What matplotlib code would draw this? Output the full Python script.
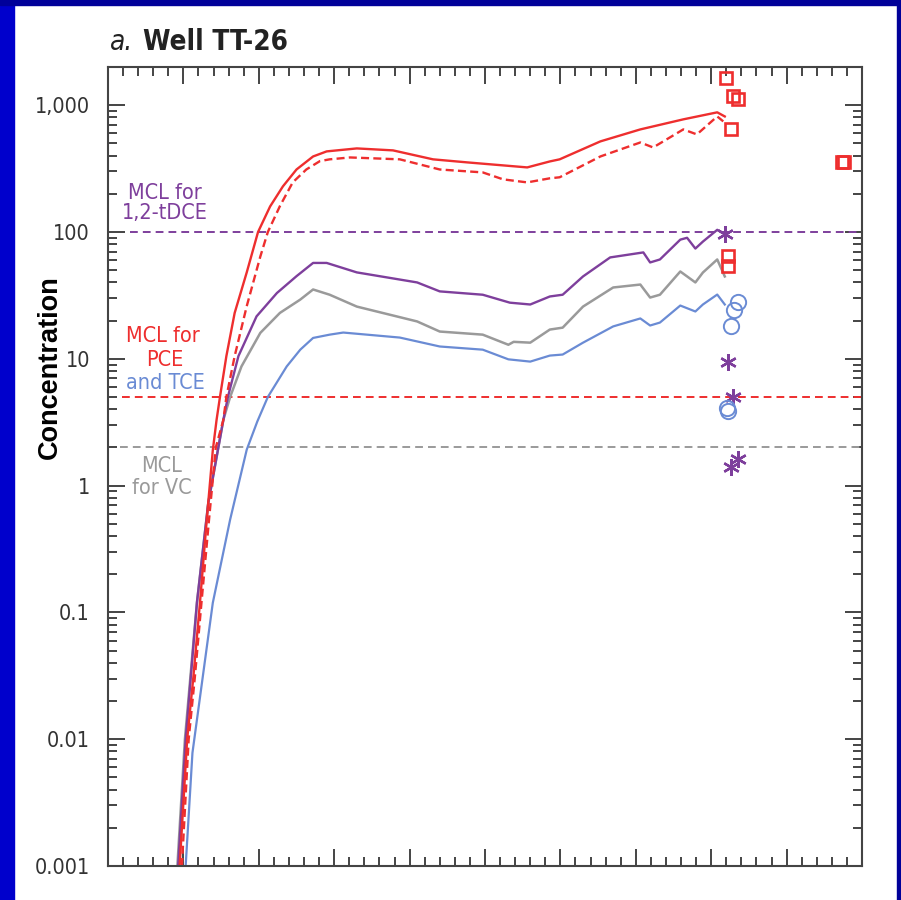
import matplotlib
matplotlib.use('Agg')
import matplotlib.pyplot as plt
from matplotlib import font_manager
from matplotlib.font_manager import FontProperties
from matplotlib.patches import Rectangle
from matplotlib.ticker import MultipleLocator, LogLocator, NullFormatter

# simulated concentrations, Well TT-26
pce_year = [1929.5, 1930.5, 1931.3, 1932.2, 1933.1, 1933.9, 1934.4, 1934.85, 1935.7, 1936.8,
            1938.4, 1939.9, 1941.5, 1943.2, 1945.0, 1947.2, 1949.0, 1953.0, 1957.8, 1963.1,
            1967.6, 1975.6, 1978.6, 1979.9, 1985.3, 1990.6, 1996.3, 2000.8, 2001.8]
pce_conc = [0.001, 0.01, 0.03, 0.12, 0.54, 1.9, 3.3, 5, 10.5, 23,
            48, 100, 159, 229, 311, 394, 432, 456, 440, 374,
            354, 323, 360, 374, 518, 644, 773, 878, 815]

pce2_year = [1929.8, 1930.7, 1931.5, 1932.4, 1933.4, 1934.3, 1935.3, 1935.7, 1936.8, 1938.4,
             1940.2, 1941.2, 1942.8, 1944.5, 1946.3, 1948.1, 1949.4, 1952.1, 1958.7, 1964.0,
             1969.7, 1972.4, 1975.6, 1978.6, 1979.9, 1985.3, 1990.6, 1992.3, 1996.3, 1998.1,
             2000.8, 2001.6]
pce2_conc = [0.001, 0.01, 0.03, 0.12, 0.54, 2, 3.3, 5, 10.5, 26,
             64, 100, 160, 246, 311, 362, 374, 387, 374, 311,
             295, 260, 246, 265, 270, 394, 508, 464, 644, 588,
             815, 745]

dce_year = [1929.3, 1930.3, 1931.8, 1933.3, 1935.3, 1935.9, 1937.3, 1939.7, 1942.4, 1945.0,
            1947.2, 1949.0, 1953.0, 1961.0, 1964.0, 1969.7, 1973.3, 1976.0, 1978.6, 1980.3,
            1983.0, 1986.6, 1991.0, 1991.9, 1993.2, 1995.9, 1996.8, 1997.9, 1998.9, 2000.8,
            2001.4]
dce_conc = [0.001, 0.01, 0.12, 0.73, 3.3, 5, 10.5, 21.6, 33, 44.8,
            57, 57, 48, 40, 34, 32, 27.7, 26.8, 31, 32,
            44.6, 63, 69, 57.5, 60.7, 87, 90, 74, 84, 104,
            99]

vc_year = [1929.2, 1930.2, 1931.8, 1933.3, 1935.3, 1936.2, 1937.7, 1940.2, 1942.8, 1945.5,
           1947.2, 1949.4, 1953.0, 1961.0, 1964.0, 1969.7, 1973.1, 1973.8, 1976.0, 1978.6,
           1980.3, 1983.0, 1987.0, 1990.6, 1991.9, 1993.2, 1995.9, 1997.9, 1998.9, 2000.8,
           2001.8]
vc_conc = [0.001, 0.01, 0.12, 0.73, 3.3, 5, 8.7, 16, 23, 29.3,
           35.2, 32, 25.8, 19.7, 16.4, 15.5, 12.9, 13.6, 13.4, 17,
           17.6, 25.8, 36.5, 38.5, 30.4, 32, 48.8, 40, 47.9, 60.7,
           44.6]

tce_year = [1930.3, 1931.2, 1933.9, 1936.2, 1938.4, 1939.8, 1941.2, 1943.7, 1945.5, 1947.2,
            1949.4, 1951.2, 1958.7, 1964.0, 1969.7, 1973.1, 1976.0, 1978.6, 1980.3, 1983.0,
            1987.0, 1990.6, 1991.9, 1993.2, 1995.9, 1997.9, 1998.9, 2000.8, 2001.8]
tce_conc = [0.001, 0.0078, 0.119, 0.54, 1.92, 3.2, 5, 8.7, 11.8, 14.6,
            15.5, 16.1, 14.7, 12.5, 11.8, 9.9, 9.5, 10.6, 10.8, 13.4,
            18, 20.8, 18.3, 19.3, 26.3, 23.6, 26.8, 32.1, 26.8]

# measured concentrations
sq_year = [2002.0, 2002.9, 2003.6, 2002.6, 2002.2, 2002.2, 2017.3, 2017.6]
sq_conc = [1626, 1173, 1111, 644, 65, 54.4, 354, 354]
ast_year = [2001.8, 2002.2, 2002.9, 2003.6, 2002.6]
ast_conc = [97, 9.5, 5.03, 1.63, 1.41]
circ_year = [2003.6, 2003.0, 2002.6, 2002.1, 2002.2]
circ_conc = [27.8, 24.4, 18, 4.12, 3.9]

mcl_dce = 100
mcl_pce = 5
mcl_vc = 2

ytick_vals = [0.001, 0.01, 0.1, 1, 10, 100, 1000]
ytick_labels = ['0.001', '0.01', '0.1', '1', '10', '100', '1,000']

RED = '#EE2E2E'
PURPLE = '#7E3F9C'
GRAY = '#9A9A9A'
BLUE = '#6A8BD4'


def find_narrow(style):
    # look for a condensed sans face on the system
    pick = None
    for f in font_manager.fontManager.ttflist:
        tag = (f.name + ' ' + f.fname).lower()
        if ('narrow' in tag or 'condensed' in tag) and 'mono' not in tag and 'serif' not in tag.replace('sans', ''):
            fn = f.fname.lower()
            is_b = 'bold' in fn
            is_i = 'italic' in fn or 'oblique' in fn
            want_b = style == 'bold'
            want_i = style == 'italic'
            if is_b == want_b and is_i == want_i:
                if pick is None or 'liberation' in tag:
                    pick = f.fname
    return pick


nr, nb, ni = find_narrow('regular'), find_narrow('bold'), find_narrow('italic')
k = 1.0 if nr else 0.84


def fp(size, style='regular'):
    path = {'regular': nr, 'bold': nb, 'italic': ni}[style]
    if path:
        return FontProperties(fname=path, size=size)
    return FontProperties(family='Liberation Sans', size=size * k,
                          weight='bold' if style == 'bold' else 'normal',
                          style='italic' if style == 'italic' else 'normal')


def px(x, y):
    return x / 901, 1 - y / 900


fig = plt.figure(figsize=(9.01, 9.0), dpi=100)
fig.patches.append(Rectangle((0, 0), 14 / 901, 1, transform=fig.transFigure, color='#0000CC', zorder=0))
fig.patches.append(Rectangle((0, 1 - 5 / 900), 1, 5 / 900, transform=fig.transFigure, color='#000099', zorder=0))
fig.patches.append(Rectangle((897 / 901, 0), 4 / 901, 1, transform=fig.transFigure, color='#000099', zorder=0))

ax = fig.add_axes([108 / 901, 34 / 900, 754 / 901, 799 / 900])
ax.set_yscale('log')
ax.set_xlim(1920, 2020)
ax.set_ylim(0.001, 2000)

ax.hlines(mcl_dce, 1922.9, 2020, color=PURPLE, lw=1.4, linestyles=(0, (4, 2.6)))
ax.hlines(mcl_pce, 1921.9, 2020, color=RED, lw=1.4, linestyles=(0, (4, 2.6)))
ax.hlines(mcl_vc, 1921.6, 2020, color=GRAY, lw=1.4, linestyles=(0, (4, 2.6)))

ax.plot(tce_year, tce_conc, color=BLUE, lw=1.6)
ax.plot(vc_year, vc_conc, color=GRAY, lw=1.8)
ax.plot(dce_year, dce_conc, color=PURPLE, lw=1.7)
ax.plot(pce2_year, pce2_conc, color=RED, lw=1.7, linestyle=(0, (3.4, 1.8)))
ax.plot(pce_year, pce_conc, color=RED, lw=1.7)

ax.plot(sq_year, sq_conc, linestyle='None', marker='s', ms=9, mfc='none', mec=RED, mew=1.9, clip_on=False)
ax.plot(ast_year, ast_conc, linestyle='None', marker=(6, 2, 0), ms=12, mec=PURPLE, mew=1.7, clip_on=False)
ax.plot(circ_year, circ_conc, linestyle='None', marker='o', ms=11, mfc='none', mec=BLUE, mew=1.4, clip_on=False)

ax.xaxis.set_major_locator(MultipleLocator(10))
ax.xaxis.set_minor_locator(MultipleLocator(2))
ax.set_yticks(ytick_vals, labels=ytick_labels)
ax.yaxis.set_minor_locator(LogLocator(base=10, subs=range(2, 10), numticks=20))
ax.yaxis.set_minor_formatter(NullFormatter())
ax.tick_params(which='both', direction='in', top=True, right=True, labelbottom=False,
               color='#444444', width=1.4)
ax.tick_params(which='major', length=12.5)
ax.tick_params(which='minor', length=6.8)
ax.tick_params(axis='y', which='major', pad=13, labelcolor='#333333')
for lab in ax.get_yticklabels():
    lab.set_fontproperties(fp(15.5))
for s in ax.spines.values():
    s.set_color('#444444')
    s.set_linewidth(1.5)

fig.text(*px(165, 203), 'MCL for\n1,2-tDCE', color=PURPLE, fontproperties=fp(15.5),
         ha='center', va='center', linespacing=1.05)
fig.text(*px(163, 336), 'MCL for', color=RED, fontproperties=fp(15.5), ha='center', va='center')
fig.text(*px(165, 360), 'PCE', color=RED, fontproperties=fp(15.5), ha='center', va='center')
fig.text(*px(165, 383), 'and TCE', color=BLUE, fontproperties=fp(15.5), ha='center', va='center')
fig.text(*px(162, 477), 'MCL\nfor VC', color=GRAY, fontproperties=fp(15.5),
         ha='center', va='center', linespacing=1.1)

fig.text(*px(110, 50), 'a.', fontproperties=fp(20, 'italic'), color='#222222', va='baseline')
fig.text(*px(143, 50), 'Well TT-26', fontproperties=fp(20, 'bold'), color='#222222', va='baseline')
fig.text(*px(50, 367), 'Concentration', fontsize=19.5, weight='bold', family='Liberation Sans',
         color='black', rotation=90, ha='center', va='center')

plt.savefig('out.png', dpi=100, facecolor='white')
